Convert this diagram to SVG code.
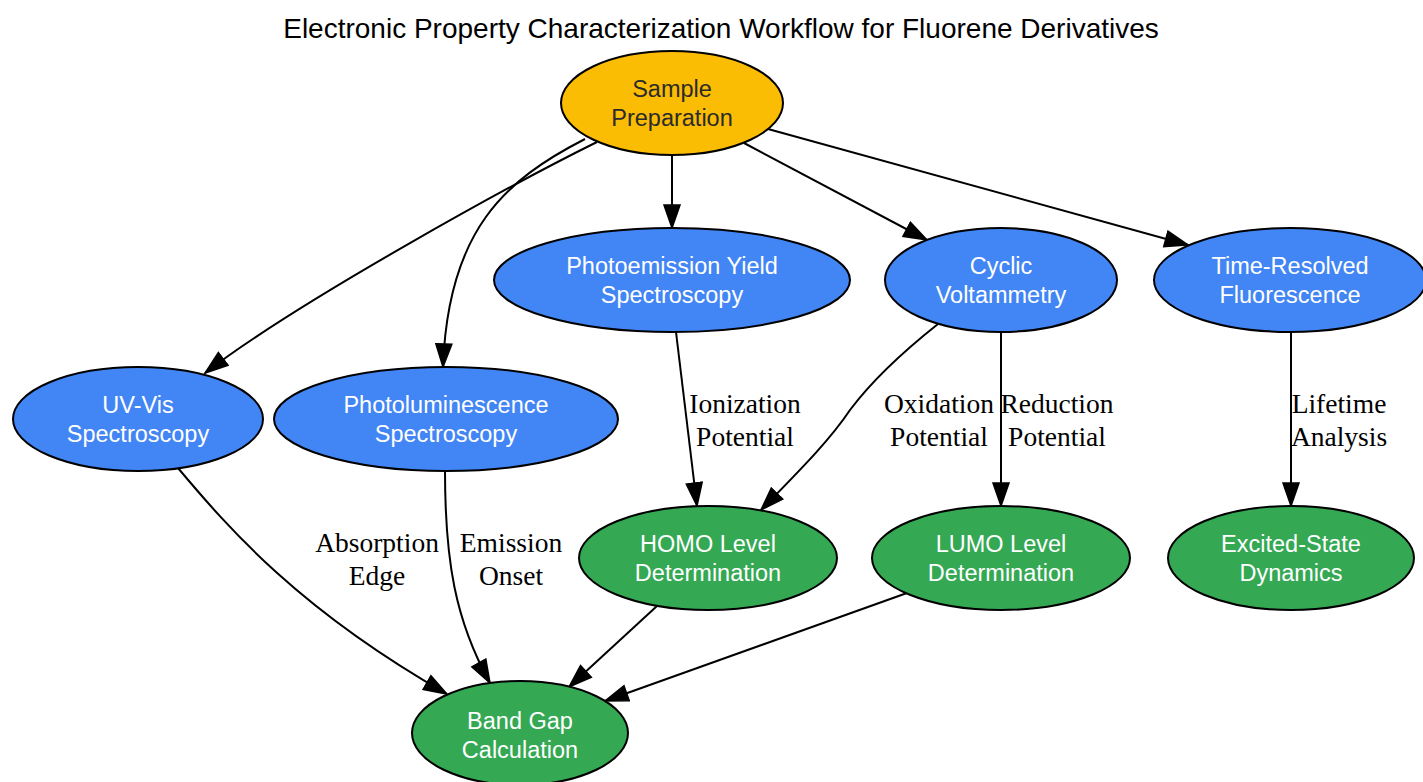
<svg xmlns="http://www.w3.org/2000/svg" width="1423" height="782" viewBox="0 0 1423 782">
<style>
.bg{fill:#ffffff}
.title{font-family:"Liberation Sans",Arial,sans-serif;font-size:28px;fill:#000000;text-anchor:middle}
.node ellipse{stroke:#000000;stroke-width:2}
.yellow ellipse{fill:#FBBC04}
.blue ellipse{fill:#4285F4}
.green ellipse{fill:#34A853}
.node text{font-family:"Liberation Sans",Arial,sans-serif;font-size:23.5px;text-anchor:middle;fill:#ffffff}
.yellow text{fill:#2b2b2b}
.edge{fill:none;stroke:#000000;stroke-width:2;marker-end:url(#arrow)}
.lbl{font-family:"Liberation Serif","Times New Roman",serif;font-size:27.5px;fill:#000000;text-anchor:middle}
</style>
<defs>
<marker id="arrow" markerUnits="userSpaceOnUse" markerWidth="26" markerHeight="20" viewBox="-1 -1 26 20" refX="23" refY="8" orient="auto">
<path d="M0,0 L23,8 L0,16 Z" fill="#000000" stroke="#000000" stroke-width="1.5"/>
</marker>
</defs>
<rect class="bg" x="0" y="0" width="1423" height="782"/>
<text class="title" x="721" y="38">Electronic Property Characterization Workflow for Fluorene Derivatives</text>

<g id="connectors">
<path class="edge" d="M597,142 C520,180 300,300 205,373"/>
<path class="edge" d="M585,139 C505,180 448,230 443,367"/>
<path class="edge" d="M672,155 L672,228"/>
<path class="edge" d="M744,143 L927,240"/>
<path class="edge" d="M768,129 L1188,245"/>
<path class="edge" d="M676,332 L697,506"/>
<path class="edge" d="M938,324 C890,362 865,390 850,410 C830,440 800,470 761,510"/>
<path class="edge" d="M1001,332 L1001,506"/>
<path class="edge" d="M1291,332 L1291,506"/>
<path class="edge" d="M178,468 C230,530 300,610 447,694"/>
<path class="edge" d="M445,471 C445,560 455,620 490,683"/>
<path class="edge" d="M657,606 L569,687"/>
<path class="edge" d="M907,593 L605,701"/>
<text class="lbl" x="745" y="413">Ionization</text>
<text class="lbl" x="745" y="446">Potential</text>
<text class="lbl" x="939" y="413">Oxidation</text>
<text class="lbl" x="939" y="446">Potential</text>
<text class="lbl" x="1057" y="413">Reduction</text>
<text class="lbl" x="1057" y="446">Potential</text>
<text class="lbl" x="1339" y="413">Lifetime</text>
<text class="lbl" x="1339" y="446">Analysis</text>
<text class="lbl" x="377" y="552">Absorption</text>
<text class="lbl" x="377" y="585">Edge</text>
<text class="lbl" x="511" y="552">Emission</text>
<text class="lbl" x="511" y="585">Onset</text>
</g>

<g id="sample" class="node yellow">
<ellipse cx="672" cy="103" rx="111" ry="52"/>
<text x="672" y="97">Sample</text>
<text x="672" y="126">Preparation</text>
</g>
<g id="pys" class="node blue">
<ellipse cx="672" cy="280" rx="178" ry="52"/>
<text x="672" y="274">Photoemission Yield</text>
<text x="672" y="303">Spectroscopy</text>
</g>
<g id="cv" class="node blue">
<ellipse cx="1001" cy="280" rx="116" ry="52"/>
<text x="1001" y="274">Cyclic</text>
<text x="1001" y="303">Voltammetry</text>
</g>
<g id="trf" class="node blue">
<ellipse cx="1290" cy="280" rx="136" ry="52"/>
<text x="1290" y="274">Time-Resolved</text>
<text x="1290" y="303">Fluorescence</text>
</g>
<g id="uvvis" class="node blue">
<ellipse cx="138" cy="419" rx="125" ry="52"/>
<text x="138" y="413">UV-Vis</text>
<text x="138" y="442">Spectroscopy</text>
</g>
<g id="pl" class="node blue">
<ellipse cx="446" cy="419" rx="172" ry="52"/>
<text x="446" y="413">Photoluminescence</text>
<text x="446" y="442">Spectroscopy</text>
</g>
<g id="homo" class="node green">
<ellipse cx="708" cy="558" rx="129" ry="52"/>
<text x="708" y="552">HOMO Level</text>
<text x="708" y="581">Determination</text>
</g>
<g id="lumo" class="node green">
<ellipse cx="1001" cy="558" rx="129" ry="52"/>
<text x="1001" y="552">LUMO Level</text>
<text x="1001" y="581">Determination</text>
</g>
<g id="excited" class="node green">
<ellipse cx="1291" cy="558" rx="123" ry="52"/>
<text x="1291" y="552">Excited-State</text>
<text x="1291" y="581">Dynamics</text>
</g>
<g id="bandgap" class="node green">
<ellipse cx="520" cy="733" rx="108" ry="52"/>
<text x="520" y="729">Band Gap</text>
<text x="520" y="758">Calculation</text>
</g>
</svg>
